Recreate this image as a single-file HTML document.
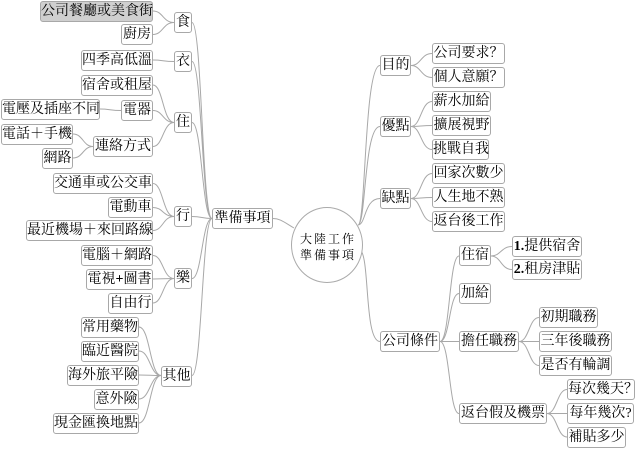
<!DOCTYPE html>
<html><head><meta charset="utf-8"><style>
html,body{margin:0;padding:0;background:#fff;width:640px;height:449px;overflow:hidden;position:relative}
.b{position:absolute;border:1px solid #a8a8a8;border-radius:3px;background:#fff;font:14px "Liberation Serif","Noto Serif CJK SC",serif;color:#000;line-height:19px;text-align:center;box-sizing:border-box;white-space:nowrap;height:21px}
.g{background:#cfcfcf}
svg{position:absolute;left:0;top:0}
.c{position:absolute;left:291px;top:207px;width:72px;height:76px;border:1px solid #aaa;border-radius:50%;box-sizing:border-box;background:#fff;font:12px "Liberation Serif","Noto Serif CJK SC",serif;letter-spacing:2px;text-align:center;line-height:16px;padding-top:23px;padding-left:2px}
</style></head><body>
<svg width="640" height="449" fill="none" stroke="#a8a8a8" stroke-width="1">
<path d="M174,22.5C163,22.5 163,11 153,11M174,22.5C163,22.5 163,34.5 153,34.5"/>
<path d="M174,61.5C163,61.5 163,60 153,60"/>
<path d="M174,122.5C163,122.5 163,85 153,85M174,122.5C163,122.5 163,110.5 153,110.5M174,122.5C163,122.5 163,146.5 153,146.5"/>
<path d="M121,110.5C110,110.5 110,109 100,109"/>
<path d="M93,146.5C83,146.5 83,134 73,134M93,146.5C83,146.5 83,158 73,158"/>
<path d="M174,216.5C163,216.5 163,183.5 153,183.5M174,216.5C163,216.5 163,207.5 153,207.5M174,216.5C163,216.5 163,230.5 153,230.5"/>
<path d="M174,278.5C163,278.5 163,255.5 153,255.5M174,278.5C163,278.5 163,279 153,279M174,278.5C163,278.5 163,303 153,303"/>
<path d="M161,375.5C150,375.5 150,327 139,327M161,375.5C150,375.5 150,351 139,351M161,375.5C150,375.5 150,375 139,375M161,375.5C150,375.5 150,399 139,399M161,375.5C150,375.5 150,423 139,423"/>
<path d="M212,218.5C202,218.5 202,22.5 192,22.5M212,218.5C202,218.5 202,61.5 192,61.5M212,218.5C202,218.5 202,122.5 192,122.5M212,218.5C202,218.5 202,216.5 192,216.5M212,218.5C202,218.5 202,278.5 192,278.5M212,218.5C202,218.5 202,375.5 192,375.5"/>
<path d="M294,228C284,222 280,218.5 273,218.5"/>
<path d="M358,225C366,225 364,65.5 380,65.5M358,225C366,225 364,126.5 380,126.5M358,225C366,225 364,198.5 380,198.5M360,250C370,255 364,341.5 380,341.5"/>
<path d="M411,65.5C421,65.5 421,53.5 432,53.5M411,65.5C421,65.5 421,77.5 432,77.5"/>
<path d="M411,126.5C421,126.5 421,101.5 432,101.5M411,126.5C421,126.5 421,125.5 432,125.5M411,126.5C421,126.5 421,149.5 432,149.5"/>
<path d="M411,198.5C421,198.5 421,173.5 432,173.5M411,198.5C421,198.5 421,197.5 432,197.5M411,198.5C421,198.5 421,221.5 432,221.5"/>
<path d="M440,341.5C450,341.5 449,256 459,256M440,341.5C450,341.5 449,293.5 459,293.5M440,341.5C450,341.5 449,341.5 459,341.5M440,341.5C450,341.5 449,413.5 459,413.5"/>
<path d="M491,256C501,256 501,246.5 512,246.5M491,256C501,256 501,269.5 512,269.5"/>
<path d="M519,341.5C529,341.5 529,317.5 539,317.5M519,341.5C529,341.5 529,341.5 539,341.5M519,341.5C529,341.5 529,365.5 539,365.5"/>
<path d="M547,413.5C557,413.5 557,389.5 567,389.5M547,413.5C557,413.5 557,413.5 567,413.5M547,413.5C557,413.5 557,437 567,437"/>
</svg>
<div class="b g" style="left:40px;top:1px;width:113px">公司餐廳或美食街</div>
<div class="b" style="left:121px;top:24px;width:32px">廚房</div>
<div class="b" style="left:174px;top:12px;width:18px">食</div>
<div class="b" style="left:81px;top:50px;width:72px">四季高低溫</div>
<div class="b" style="left:174px;top:51px;width:18px">衣</div>
<div class="b" style="left:81px;top:75px;width:72px">宿舍或租屋</div>
<div class="b" style="left:1px;top:99px;width:99px">電壓及插座不同</div>
<div class="b" style="left:121px;top:100px;width:32px">電器</div>
<div class="b" style="left:174px;top:112px;width:18px">住</div>
<div class="b" style="left:1px;top:124px;width:72px">電話＋手機</div>
<div class="b" style="left:93px;top:136px;width:60px">連絡方式</div>
<div class="b" style="left:42px;top:148px;width:31px">網路</div>
<div class="b" style="left:53px;top:173px;width:100px">交通車或公交車</div>
<div class="b" style="left:108px;top:197px;width:45px">電動車</div>
<div class="b" style="left:174px;top:206px;width:18px">行</div>
<div class="b" style="left:26px;top:220px;width:127px">最近機場＋來回路線</div>
<div class="b" style="left:212px;top:208px;width:61px">準備事項</div>
<div class="b" style="left:81px;top:245px;width:72px">電腦＋網路</div>
<div class="b" style="left:86px;top:269px;width:67px">電視<b>+</b>圖書</div>
<div class="b" style="left:174px;top:268px;width:18px">樂</div>
<div class="b" style="left:108px;top:293px;width:45px">自由行</div>
<div class="b" style="left:81px;top:317px;width:58px">常用藥物</div>
<div class="b" style="left:81px;top:341px;width:58px">臨近醫院</div>
<div class="b" style="left:67px;top:365px;width:72px">海外旅平險</div>
<div class="b" style="left:161px;top:366px;width:31px">其他</div>
<div class="b" style="left:94px;top:389px;width:45px">意外險</div>
<div class="b" style="left:53px;top:413px;width:86px">現金匯換地點</div>
<div class="c">大陸工作<br>準備事項</div>
<div class="b" style="left:380px;top:55px;width:31px">目的</div>
<div class="b" style="left:432px;top:43px;width:73px">公司要求？</div>
<div class="b" style="left:432px;top:67px;width:73px">個人意願？</div>
<div class="b" style="left:380px;top:116px;width:31px">優點</div>
<div class="b" style="left:432px;top:91px;width:59px">薪水加給</div>
<div class="b" style="left:432px;top:115px;width:59px">擴展視野</div>
<div class="b" style="left:432px;top:139px;width:57px">挑戰自我</div>
<div class="b" style="left:380px;top:188px;width:31px">缺點</div>
<div class="b" style="left:432px;top:163px;width:73px">回家次數少</div>
<div class="b" style="left:432px;top:187px;width:73px">人生地不熟</div>
<div class="b" style="left:432px;top:211px;width:73px">返台後工作</div>
<div class="b" style="left:459px;top:245px;width:32px">住宿</div>
<div class="b" style="left:512px;top:236px;width:70px"><b>1.</b>提供宿舍</div>
<div class="b" style="left:512px;top:259px;width:70px"><b>2.</b>租房津貼</div>
<div class="b" style="left:459px;top:283px;width:32px">加給</div>
<div class="b" style="left:380px;top:331px;width:60px">公司條件</div>
<div class="b" style="left:459px;top:331px;width:60px">擔任職務</div>
<div class="b" style="left:539px;top:307px;width:59px">初期職務</div>
<div class="b" style="left:539px;top:331px;width:73px">三年後職務</div>
<div class="b" style="left:539px;top:355px;width:73px">是否有輪調</div>
<div class="b" style="left:459px;top:403px;width:88px">返台假及機票</div>
<div class="b" style="left:567px;top:379px;width:68px">每次幾天？</div>
<div class="b" style="left:567px;top:403px;width:67px">每年幾次?</div>
<div class="b" style="left:567px;top:427px;width:59px">補貼多少</div>
</body></html>
